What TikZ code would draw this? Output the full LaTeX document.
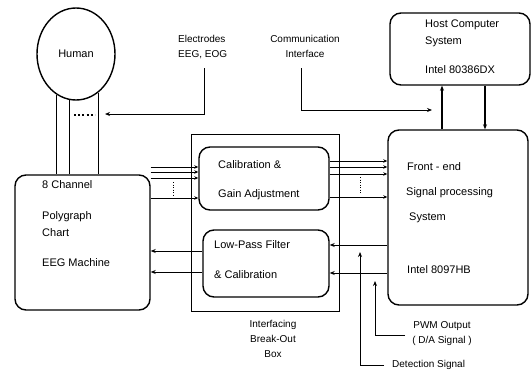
\documentclass[tikz,border=0pt]{standalone}
\usepackage{fontspec}
\setmainfont{Liberation Sans}
\usetikzlibrary{arrows.meta,calc,shapes.geometric}
\begin{document}
\begin{tikzpicture}[x=1pt,y=-1pt,
 box/.style={draw,line width=1.4pt,rounded corners=11pt,inner sep=0pt},
 sq/.style={draw,line width=1pt,inner sep=0pt},
 btxt/.style={font=\fontsize{11}{12}\selectfont,inner sep=0pt,anchor=west},
 lbl/.style={font=\fontsize{10}{15}\selectfont,inner sep=0pt},
 con/.style={line width=0.9pt},
 arr/.style={con,-{Stealth[length=5pt,width=4pt]}},
 sarr/.style={con,-{Stealth[length=4pt,width=3.5pt]}},
 dots/.style={line width=0.9pt,dash pattern=on 1pt off 1.5pt}]
\useasboundingbox (0,0) rectangle (532,370);

% main boxes
\node[draw,ellipse,line width=1.4pt,minimum width=78,minimum height=92,inner sep=0pt] (human) at (76,54) {};
\node[font=\fontsize{11}{12}\selectfont] (humantxt) at (human.center) {Human};
\node[box,minimum width=135,minimum height=135] (poly) at (82.5,242.5) {};
\node[box,minimum width=140,minimum height=72] (host) at (460,49) {};
\node[box,minimum width=140,minimum height=175] (fe) at (458,217.5) {};
\node[sq,minimum width=148,minimum height=177] (bob) at (265,222.5) {};
\node[box,minimum width=130,minimum height=63] (cal) at (264,178.5) {};
\node[box,minimum width=126,minimum height=67] (lpf) at (266,263.5) {};

% box texts
\node[btxt] (p1) at (42,185) {8 Channel};
\node[btxt] (p2) at (42,217) {Polygraph};
\node[btxt] (p3) at (42,233) {Chart};
\node[btxt] (p4) at (42,263) {EEG Machine};
\node[btxt] (h1) at (425,25) {Host Computer};
\node[btxt] (h2) at (425,42) {System};
\node[btxt] (h3) at (425,70) {Intel 80386DX};
\node[btxt] (f1) at (407,167) {Front - end};
\node[btxt] (f2) at (406,193) {Signal processing};
\node[btxt] (f3) at (409,218) {System};
\node[btxt] (f4) at (407,270) {Intel 8097HB};
\node[btxt] (c1) at (218,165) {Calibration \&};
\node[btxt] (c2) at (218,195) {Gain Adjustment};
\node[btxt] (l1) at (214,245) {Low-Pass Filter};
\node[btxt] (l2) at (214,275) {\& Calibration};

% labels
\node[lbl,align=left,anchor=west] (elec) at (178,47) {Electrodes\\EEG, EOG};
\node[lbl,align=center] (comm) at (305,46) {Communication\\Interface};
\node[lbl,align=center,anchor=north] (boblbl) at (273,320) {Interfacing\\Break-Out\\Box};
\node[lbl,align=center] (pwm) at (442,334) {PWM Output\\( D/A Signal )};
\node[lbl,anchor=west] (det) at (392,365) {Detection Signal};

% neck
\draw[con] (human.244.7) -- (human.244.7 |- poly.north);
\draw[con] (human.262.5) -- (human.262.5 |- poly.north);
\draw[con] (human.300.1) -- (human.300.1 |- poly.north);
\draw[line width=1.4pt,dash pattern=on 2pt off 2.2pt] (74,115) -- (95,115);

% electrodes
\coordinate (elecend) at (105,114);
\draw[arr] (204,68) -- (204,114) -- (elecend);
% communication
\coordinate (commend) at (432,110);
\draw[arr] (301,68) -- (301,110) -- (commend);

% host <-> front end
\draw[arr,line width=1.1pt] (fe.north -| 442,0) -- (host.south -| 442,0);
\draw[arr,line width=1.1pt] (host.south -| 485,0) -- (fe.north -| 485,0);

% poly -> cal
\foreach \yy in {167,172,178,198}
  \draw[sarr] (poly.east |- 0,\yy) -- (cal.west |- 0,\yy);
\draw[dots] (173,182) -- (173,195);
% cal -> fe
\foreach \yy in {161,167,174,197}
  \draw[sarr] (cal.east |- 0,\yy) -- (fe.west |- 0,\yy);
\draw[dots] (360,177) -- (360,193);
% fe -> lpf
\foreach \yy in {245,273}
  \draw[arr] (fe.west |- 0,\yy) -- (lpf.east |- 0,\yy);
% lpf -> poly
\foreach \yy in {251,272}
  \draw[arr] (lpf.west |- 0,\yy) -- (poly.east |- 0,\yy);

% PWM and detection
\draw[arr] ([xshift=-7pt]pwm.west |- 0,335) -- (375,335) -- (375,281);
\draw[arr] ([xshift=-8pt]det.west) -- (360,365) -- (360,252);
\end{tikzpicture}
\end{document}
